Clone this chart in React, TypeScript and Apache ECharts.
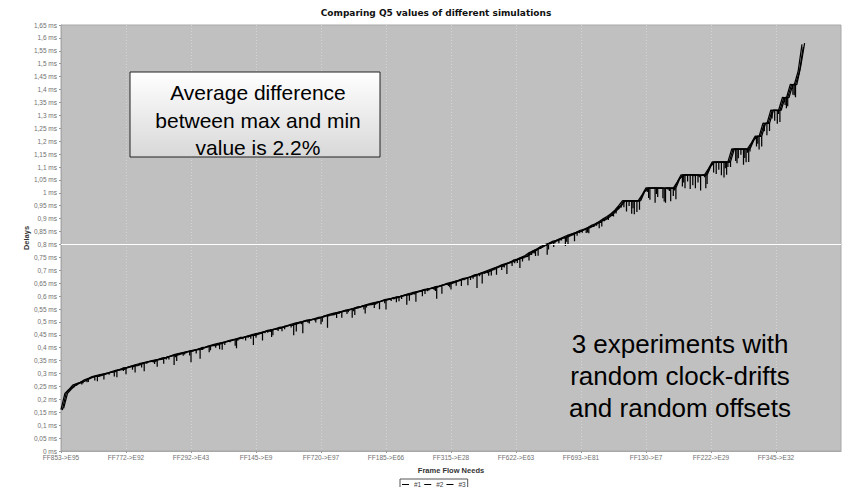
import React, { useEffect, useRef } from 'react';
import * as echarts from 'echarts';

const xTickLabels = ['FF853->E95', 'FF772->E92', 'FF292->E43', 'FF145->E9', 'FF720->E97', 'FF185->E66', 'FF315->E28', 'FF622->E63', 'FF693->E81', 'FF130->E7', 'FF222->E29', 'FF345->E32'];
const seriesNames = ['#1', '#2', '#3'];

// upper values of each experiment, one sample every 6 flow-need positions
const series1 = [
  0.160,0.223,0.238,0.255,0.261,0.266,0.276,0.281,0.288,0.292,
  0.296,0.299,0.302,0.308,0.312,0.314,0.322,0.324,0.329,0.334,
  0.338,0.341,0.344,0.349,0.352,0.354,0.361,0.363,0.368,0.373,
  0.377,0.380,0.383,0.388,0.391,0.393,0.400,0.402,0.407,0.412,
  0.416,0.419,0.422,0.428,0.431,0.433,0.440,0.441,0.446,0.451,
  0.455,0.458,0.461,0.467,0.470,0.472,0.479,0.481,0.486,0.491,
  0.495,0.498,0.501,0.507,0.509,0.511,0.518,0.520,0.525,0.530,
  0.534,0.537,0.540,0.546,0.549,0.551,0.558,0.560,0.565,0.570,
  0.574,0.577,0.580,0.586,0.589,0.591,0.597,0.599,0.604,0.609,
  0.613,0.616,0.619,0.625,0.628,0.630,0.637,0.639,0.644,0.649,
  0.653,0.657,0.661,0.668,0.671,0.674,0.682,0.685,0.691,0.697,
  0.703,0.708,0.713,0.721,0.726,0.730,0.739,0.743,0.750,0.757,
  0.768,0.775,0.782,0.792,0.799,0.803,0.812,0.816,0.823,0.830,
  0.836,0.841,0.846,0.854,0.859,0.864,0.874,0.880,0.889,0.899,
  0.908,0.919,0.933,0.950,0.970,0.968,0.970,0.969,0.970,0.992,
  1.019,1.017,1.019,1.018,1.019,1.016,1.019,1.018,1.042,1.070,
  1.068,1.070,1.069,1.070,1.067,1.070,1.093,1.120,1.118,1.120,
  1.119,1.120,1.170,1.168,1.170,1.169,1.170,1.193,1.220,1.218,
  1.270,1.268,1.320,1.319,1.320,1.370,1.368,1.420,1.418,1.470,
  1.575,
];

const series2 = [
  0.158,0.224,0.240,0.253,0.261,0.269,0.273,0.283,0.288,0.290,
  0.295,0.300,0.304,0.306,0.312,0.317,0.319,0.326,0.329,0.332,
  0.337,0.342,0.346,0.347,0.352,0.357,0.358,0.365,0.368,0.371,
  0.376,0.381,0.385,0.386,0.391,0.396,0.397,0.404,0.407,0.410,
  0.415,0.420,0.424,0.426,0.431,0.436,0.437,0.443,0.446,0.449,
  0.454,0.459,0.463,0.465,0.470,0.475,0.476,0.483,0.486,0.489,
  0.494,0.499,0.503,0.505,0.509,0.514,0.515,0.522,0.525,0.528,
  0.533,0.538,0.542,0.544,0.549,0.554,0.555,0.562,0.565,0.568,
  0.573,0.578,0.582,0.584,0.589,0.594,0.594,0.601,0.604,0.607,
  0.612,0.617,0.621,0.623,0.628,0.633,0.634,0.641,0.644,0.647,
  0.652,0.658,0.663,0.666,0.671,0.677,0.679,0.687,0.691,0.695,
  0.702,0.709,0.715,0.719,0.726,0.733,0.736,0.745,0.750,0.755,
  0.767,0.776,0.784,0.790,0.799,0.806,0.809,0.818,0.823,0.828,
  0.835,0.842,0.848,0.852,0.859,0.867,0.871,0.882,0.889,0.897,
  0.907,0.920,0.934,0.948,0.969,0.970,0.967,0.970,0.969,0.998,
  1.018,1.019,1.019,1.017,1.018,1.019,1.016,1.019,1.048,1.069,
  1.070,1.070,1.067,1.070,1.069,1.068,1.098,1.119,1.120,1.118,
  1.120,1.119,1.169,1.170,1.167,1.170,1.169,1.198,1.219,1.220,
  1.268,1.270,1.318,1.320,1.319,1.368,1.370,1.419,1.420,1.468,
  1.565,
];

const series3 = [
  0.165,0.223,0.240,0.254,0.262,0.267,0.275,0.282,0.289,0.289,
  0.294,0.299,0.304,0.307,0.313,0.315,0.321,0.325,0.330,0.331,
  0.336,0.341,0.346,0.348,0.353,0.355,0.360,0.364,0.369,0.370,
  0.375,0.380,0.385,0.387,0.392,0.394,0.399,0.403,0.408,0.409,
  0.414,0.419,0.424,0.427,0.432,0.434,0.439,0.442,0.447,0.448,
  0.453,0.458,0.463,0.466,0.471,0.473,0.478,0.482,0.487,0.488,
  0.493,0.498,0.503,0.506,0.510,0.512,0.517,0.521,0.526,0.527,
  0.532,0.537,0.542,0.545,0.550,0.552,0.557,0.561,0.566,0.567,
  0.572,0.577,0.582,0.585,0.590,0.592,0.596,0.600,0.605,0.606,
  0.611,0.616,0.621,0.624,0.629,0.631,0.636,0.640,0.645,0.646,
  0.651,0.657,0.663,0.667,0.672,0.675,0.681,0.686,0.692,0.694,
  0.701,0.708,0.715,0.720,0.727,0.731,0.738,0.744,0.751,0.754,
  0.766,0.775,0.784,0.791,0.800,0.804,0.811,0.817,0.824,0.827,
  0.834,0.841,0.848,0.853,0.860,0.865,0.873,0.881,0.890,0.896,
  0.906,0.919,0.934,0.949,0.970,0.969,0.970,0.968,0.970,1.005,
  1.019,1.018,1.019,1.019,1.017,1.019,1.018,1.019,1.055,1.070,
  1.069,1.070,1.070,1.068,1.070,1.069,1.105,1.120,1.119,1.120,
  1.118,1.120,1.170,1.169,1.170,1.168,1.170,1.205,1.220,1.219,
  1.270,1.269,1.320,1.318,1.320,1.370,1.369,1.420,1.419,1.490,
  1.580,
];

// downward spikes: [sample index, depth in ms]
const spikes1 = [
  [4,0.008],[7,0.014],[10,0.005],[11,0.022],[14,0.007],[16,0.012],[19,0.030],[22,0.006],[24,0.015],[27,0.009],[29,0.040],
  [32,0.005],[33,0.018],[36,0.008],[38,0.025],[41,0.006],[42,0.011],[45,0.035],[48,0.007],[50,0.016],[53,0.009],[54,0.028],
  [57,0.005],[59,0.013],[62,0.045],[65,0.006],[67,0.019],[70,0.008],[72,0.024],[75,0.010],[78,0.032],[81,0.007],[83,0.014],
  [86,0.021],[89,0.006],[91,0.038],[94,0.009],[96,0.017],[99,0.006],[100,0.027],[105,0.012],[108,0.042],[111,0.008],
  [113,0.020],[116,0.006],[117,0.015],[120,0.030],[123,0.009],[125,0.023],[128,0.007],[130,0.036],[133,0.011],[135,0.018],
  [138,0.026],[141,0.008],[143,0.014],
  [145,0.040],[147,0.052],[151,0.044],[153,0.034],[155,0.054],[156,0.012],[157,0.030],[160,0.050],[162,0.040],[164,0.058],
  [165,0.010],[168,0.045],[170,0.060],[171,0.020],[173,0.045],[175,0.060],[176,0.015],[179,0.050],[181,0.045],[183,0.040],
  [184,0.015],[186,0.040],[188,0.040],
];

const spikes2 = [
  [3,0.006],[5,0.011],[9,0.020],[12,0.009],[14,0.026],[16,0.005],[18,0.014],[21,0.033],[24,0.007],[26,0.020],[29,0.008],
  [31,0.012],[33,0.042],[36,0.006],[38,0.017],[41,0.028],[43,0.005],[45,0.009],[47,0.015],[49,0.038],[52,0.007],[54,0.022],
  [57,0.011],[60,0.031],[63,0.008],[65,0.016],[67,0.005],[68,0.048],[71,0.006],[73,0.013],[75,0.027],[78,0.009],[80,0.019],
  [83,0.036],[85,0.007],[87,0.012],[89,0.025],[93,0.015],[94,0.006],[96,0.044],[99,0.008],[101,0.018],[103,0.005],[104,0.029],
  [107,0.010],[109,0.007],[110,0.022],[113,0.006],[114,0.040],[116,0.009],[118,0.016],[121,0.011],[122,0.028],[124,0.005],
  [126,0.019],[128,0.008],[129,0.034],[131,0.006],[132,0.014],[135,0.024],[137,0.010],[139,0.007],[140,0.012],[142,0.014],
  [144,0.025],[146,0.048],[148,0.035],[150,0.015],[152,0.057],[154,0.039],[156,0.049],[157,0.010],[159,0.045],[161,0.055],
  [163,0.030],[165,0.050],[167,0.040],[169,0.050],[170,0.025],[172,0.012],[173,0.055],[174,0.020],[175,0.035],[176,0.050],
  [178,0.040],[180,0.030],[182,0.030],[184,0.045],[186,0.035],[188,0.050],
];

const spikes3 = [
  [5,0.005],[6,0.009],[8,0.016],[13,0.018],[16,0.024],[18,0.006],[20,0.013],[23,0.005],[24,0.027],[27,0.010],[29,0.021],
  [31,0.006],[34,0.014],[35,0.037],[39,0.009],[40,0.020],[44,0.024],[46,0.006],[48,0.012],[51,0.030],[53,0.005],[55,0.008],
  [56,0.014],[59,0.040],[61,0.007],[63,0.012],[66,0.026],[68,0.005],[70,0.017],[73,0.008],[74,0.034],[77,0.013],[80,0.006],
  [81,0.028],[84,0.009],[86,0.016],[88,0.039],[90,0.005],[92,0.022],[95,0.007],[97,0.031],[99,0.012],[102,0.024],[105,0.008],
  [106,0.050],[108,0.006],[109,0.015],[111,0.025],[113,0.009],[115,0.014],[117,0.035],[118,0.005],[120,0.007],[121,0.020],
  [124,0.040],[126,0.006],[127,0.012],[129,0.017],[131,0.029],[133,0.008],[134,0.016],[136,0.005],[138,0.020],[141,0.011],
  [143,0.006],
  [145,0.020],[146,0.030],[147,0.042],[150,0.039],[152,0.024],[154,0.051],[155,0.007],[157,0.044],[159,0.030],[160,0.025],
  [162,0.052],[163,0.008],[165,0.035],[168,0.030],[170,0.048],[171,0.020],[173,0.035],[175,0.050],[176,0.010],[178,0.030],
  [179,0.040],[181,0.030],[183,0.050],[185,0.030],[187,0.040],
];

const allSeries = [series1, series2, series3];
const allSpikes = [spikes1, spikes2, spikes3];
const sampleStep = 6;
const sampleOffsets = [0, 2, 4];

const FONT = '"Liberation Sans", Arial, sans-serif';

function buildData(vals: number[], spikes: number[][], offset: number) {
  const depth = new Map<number, number>();
  spikes.forEach(([i, d]) => depth.set(i, d));
  const out: number[][] = [];
  vals.forEach((v, i) => {
    const x = i * sampleStep + offset;
    out.push([x, v]);
    const d = depth.get(i);
    if (d !== undefined) {
      out.push([x, v - d]);
      out.push([x, v]);
    }
  });
  return out;
}

export default function App() {
  const ref = useRef<HTMLDivElement>(null);
  useEffect(() => {
    const chart = echarts.init(ref.current!, null, { renderer: 'svg' });
    const option: any = {
      animation: false,
      backgroundColor: '#ffffff',
      textStyle: { fontFamily: FONT },
      title: {
        text: 'Comparing Q5 values of different simulations',
        left: 431,
        textAlign: 'center',
        top: 3,
        textStyle: { fontFamily: '"DejaVu Sans", sans-serif', fontSize: 9, fontWeight: 'bold', color: '#111' },
      },
      legend: {
        data: seriesNames,
        left: 400,
        top: 479,
        icon: 'rect',
        itemWidth: 7,
        itemHeight: 1,
        itemGap: 3,
        padding: [2, 2, 2, 2],
        borderColor: '#555',
        borderWidth: 1,
        textStyle: { fontFamily: FONT, fontSize: 6.5, color: '#444' },
      },
      grid: {
        left: 61,
        right: 4,
        top: 25,
        bottom: 36,
        show: true,
        backgroundColor: '#c0c0c0',
        borderColor: '#a8a8a8',
        borderWidth: 1,
      },
      xAxis: {
        type: 'value',
        min: 0,
        max: 1200,
        interval: 100,
        name: 'Frame Flow Needs',
        nameLocation: 'middle',
        nameGap: 15,
        nameMoveOverlap: false,
        nameTextStyle: { fontFamily: FONT, fontSize: 7.5, fontWeight: 'bold', color: '#333' },
        axisLine: { show: true, lineStyle: { color: '#a8a8a8' } },
        axisTick: { show: true, length: 2, lineStyle: { color: '#999' } },
        axisLabel: {
          fontFamily: FONT,
          fontSize: 6.5,
          color: '#707070',
          margin: 3,
          showMaxLabel: false,
          formatter: (v: number) => xTickLabels[Math.round(v / 100)] ?? '',
        },
        splitLine: { show: true, lineStyle: { color: '#d4d4d4', type: [1, 2], width: 1 } },
      },
      yAxis: {
        type: 'value',
        min: 0,
        max: 1.65,
        interval: 0.05,
        name: 'Delays',
        nameLocation: 'middle',
        nameGap: 31,
        nameMoveOverlap: false,
        nameTextStyle: { fontFamily: FONT, fontSize: 7.5, fontWeight: 'bold', color: '#333' },
        axisLine: { show: true, lineStyle: { color: '#a8a8a8' } },
        axisTick: { show: true, length: 2, lineStyle: { color: '#999' } },
        axisLabel: {
          fontFamily: FONT,
          fontSize: 6.5,
          color: '#707070',
          margin: 4,
          formatter: (v: number) => {
            const r = Math.round(v * 100) / 100;
            return (r === 0 ? '0' : String(r).replace('.', ',')) + ' ms';
          },
        },
        splitLine: { show: false },
      },
      series: allSeries.map((vals, k) => ({
        name: seriesNames[k],
        type: 'line',
        symbol: 'none',
        showSymbol: false,
        lineStyle: { color: '#000000', width: 1.25 },
        itemStyle: { color: '#000000' },
        data: buildData(vals, allSpikes[k], sampleOffsets[k]),
        markLine: k === 0 ? {
          silent: true,
          symbol: 'none',
          label: { show: false },
          lineStyle: { color: '#ffffff', type: 'solid', width: 1 },
          data: [{ yAxis: 0.8 }],
        } : undefined,
        z: 3 + k,
      })),
      graphic: [
        {
          type: 'rect',
          shape: { x: 130, y: 72, width: 250, height: 85 },
          style: {
            fill: new echarts.graphic.LinearGradient(0, 0, 0, 1, [
              { offset: 0, color: '#ffffff' },
              { offset: 1, color: '#d8d8d8' },
            ]),
            stroke: '#222',
            lineWidth: 1,
          },
          z: 10,
        },
        {
          type: 'text',
          x: 258,
          y: 79,
          style: {
            text: 'Average difference\nbetween max and min\nvalue is 2.2%',
            font: '21px "Liberation Sans", Arial, sans-serif',
            lineHeight: 27.5,
            fill: '#000',
            textAlign: 'center',
            textVerticalAlign: 'top',
          },
          z: 11,
        },
        {
          type: 'text',
          x: 680,
          y: 328,
          style: {
            text: '3 experiments with\nrandom clock-drifts\nand random offsets',
            font: '26px "Liberation Sans", Arial, sans-serif',
            lineHeight: 32,
            fill: '#000',
            textAlign: 'center',
            textVerticalAlign: 'top',
          },
          z: 11,
        },
      ],
    };
    chart.setOption(option);
    return () => chart.dispose();
  }, []);
  return <div ref={ref} style={{ position: 'fixed', left: 0, top: 0, width: 845, height: 487 }} />;
}
